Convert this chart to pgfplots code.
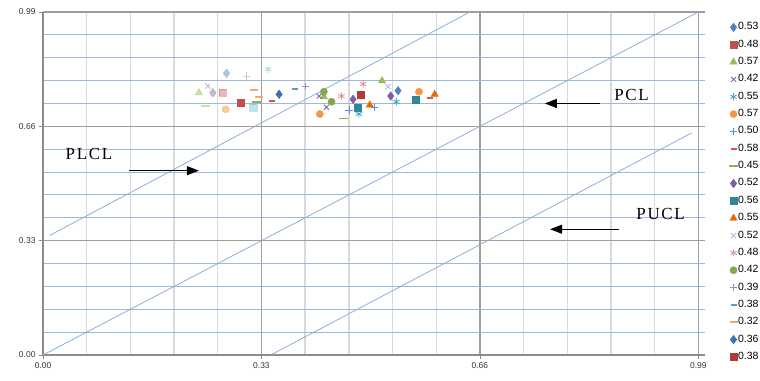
\documentclass[border=0pt]{standalone}
\usepackage{fontspec}
\setmainfont{Liberation Sans}
\newfontfamily\annfont{Liberation Serif}[LetterSpace=10]
\usepackage{pgfplots}
\pgfplotsset{compat=1.18}
\usetikzlibrary{arrows.meta}
\definecolor{cA}{HTML}{4F81BD}
\definecolor{cB}{HTML}{C0504D}
\definecolor{cC}{HTML}{9BBB59}
\definecolor{cD}{HTML}{8064A2}
\definecolor{cE}{HTML}{4BACC6}
\definecolor{cF}{HTML}{F79646}
\definecolor{cG}{HTML}{5F8DD3}
\definecolor{cH}{HTML}{D9534F}
\definecolor{cI}{HTML}{8DB255}
\definecolor{cJ}{HTML}{7D60A0}
\definecolor{cK}{HTML}{31859C}
\definecolor{cL}{HTML}{E46C0A}
\definecolor{cM}{HTML}{A9C0DE}
\definecolor{cN}{HTML}{D99694}
\definecolor{cO}{HTML}{86A84A}
\definecolor{cP}{HTML}{9F8FC0}
\definecolor{cQ}{HTML}{4F9FC6}
\definecolor{cR}{HTML}{F9A664}
\definecolor{cS}{HTML}{3F6FB0}
\definecolor{cT}{HTML}{B03A37}
\definecolor{lineblue}{HTML}{8EAEDB}
\definecolor{minorblue}{HTML}{9DB8DF}
\begin{document}
\begin{tikzpicture}
\clip (-43bp,-26bp) rectangle (717bp,355bp);
\begin{axis}[
  at={(0,0)}, anchor=south west,
  scale only axis, width=662bp, height=343bp,
  xmin=0, xmax=1.0, ymin=0, ymax=0.99,
  axis x line=bottom, axis y line=left,
  axis line style={-, draw=black!45, line width=1.3bp},
  xtick={0,0.33,0.66,0.99}, ytick={0,0.33,0.66,0.99},
  minor xtick={0.066,0.132,0.198,0.264,0.396,0.462,0.528,0.594,0.726,0.792,0.858,0.924},
  minor ytick={0.066,0.132,0.198,0.264,0.396,0.462,0.528,0.594,0.726,0.792,0.858,0.924},
  grid=both,
  major grid style={draw=black!38, line width=1.4bp},
  minor x grid style={draw=black!15, line width=1.4bp},
  minor y grid style={draw=minorblue, line width=1bp},
  tick align=outside, major tick length=4bp, minor tick length=0pt,
  tick style={draw=black!45, line width=0.8bp},
  ticklabel style={font=\fontsize{8.5}{9}\selectfont, text=black!80},
  /pgf/number format/fixed, /pgf/number format/fixed zerofill,
  /pgf/number format/precision=2, /pgf/number format/assume math mode=true,
  legend cell align=left,
  legend image code/.code={\draw[mark repeat=2,mark phase=2] plot coordinates {(0bp,0bp)(4bp,0bp)(8bp,0bp)};},
  legend style={at={(axis description cs:1.036,0.969)}, anchor=north west,
    draw=none, fill=none, inner sep=0pt, row sep=8.35bp,
    font=\fontsize{10.5}{10.5}\selectfont,
    nodes={inner sep=0pt, text height=7bp, text depth=2bp},
    /tikz/every even column/.append style={column sep=4bp}},
  every axis plot/.append style={only marks, mark size=3.6bp},
]
% control lines
\addplot[forget plot, no marks, sharp plot, draw=lineblue, line width=0.8bp] coordinates {(0.01,0.345) (0.645,0.99)};
\addplot[forget plot, no marks, sharp plot, draw=lineblue, line width=0.8bp] coordinates {(0.0,0.0) (0.99,0.99)};
\addplot[forget plot, no marks, sharp plot, draw=lineblue, line width=0.8bp] coordinates {(0.344,0.0) (0.98,0.641)};
% faded points
\addplot[forget plot, mark=diamond*, mark size=4.3bp, color=cA, opacity=0.45] coordinates {(0.2773,0.8130)};
\addplot[forget plot, mark=+, color=cP, opacity=0.5, line width=0.9bp] coordinates {(0.3075,0.8052)};
\addplot[forget plot, mark=asterisk, color=cE, opacity=0.45, line width=0.9bp] coordinates {(0.3401,0.8245)};
\addplot[forget plot, mark=x, color=cD, opacity=0.45, line width=0.9bp] coordinates {(0.2491,0.7763)};
\addplot[forget plot, mark=triangle*, mark size=4.2bp, color=cC, opacity=0.5] coordinates {(0.2355,0.7570)};
\addplot[forget plot, mark=diamond*, mark size=4.3bp, color=cD, opacity=0.45] coordinates {(0.2566,0.7570)};
\addplot[forget plot, mark=square*, color=cB, opacity=0.4] coordinates {(0.2717,0.7570)};
\addplot[forget plot, mark=-, mark size=4.5bp, color=cC, opacity=0.5, line width=1.6bp] coordinates {(0.2460,0.7186)};
\addplot[forget plot, mark=*, color=cF, opacity=0.5] coordinates {(0.2758,0.7091)};
\addplot[forget plot, mark=square*, color=cE, opacity=0.35] coordinates {(0.3174,0.7149)};
% series
\addplot[mark=diamond*, mark size=4.3bp, color=cA] coordinates {(0.5363,0.7628)};
\addlegendentry{0.53}
\addplot[mark=square*, color=cB] coordinates {(0.2989,0.7281)};
\addlegendentry{0.48}
\addplot[mark=triangle*, mark size=4.2bp, color=cC] coordinates {(0.5122,0.7916) (0.4242,0.7455)};
\addlegendentry{0.57}
\addplot[mark=x, color=cD, line width=0.9bp] coordinates {(0.4171,0.7475) (0.4282,0.7149)};
\addlegendentry{0.42}
\addplot[mark=asterisk, color=cE, line width=0.9bp] coordinates {(0.5339,0.7310) (0.4770,0.6955)};
\addlegendentry{0.55}
\addplot[mark=*, color=cF] coordinates {(0.5680,0.7599) (0.4181,0.6955)};
\addlegendentry{0.57}
\addplot[mark=+, color=cG, line width=0.9bp] coordinates {(0.4623,0.7071) (0.5011,0.7149)};
\addlegendentry{0.50}
\addplot[mark=-, mark size=3bp, color=cH, line width=1.7bp] coordinates {(0.3461,0.7339) (0.5842,0.7426)};
\addlegendentry{0.58}
\addplot[mark=-, mark size=4.5bp, color=cI, line width=1.6bp] coordinates {(0.4533,0.6831) (0.3226,0.7310)};
\addlegendentry{0.45}
\addplot[mark=diamond*, mark size=4.3bp, color=cJ] coordinates {(0.4684,0.7380) (0.5253,0.7475)};
\addlegendentry{0.52}
\addplot[mark=square*, color=cK] coordinates {(0.5630,0.7380) (0.4759,0.7149)};
\addlegendentry{0.56}
\addplot[mark=triangle*, mark size=4.2bp, color=cL] coordinates {(0.5917,0.7524) (0.4936,0.7215)};
\addlegendentry{0.55}
\addplot[mark=x, color=cM, line width=0.9bp] coordinates {(0.5212,0.7743)};
\addlegendentry{0.52}
\addplot[mark=asterisk, color=cN, line width=0.9bp] coordinates {(0.4835,0.7821) (0.4509,0.7475)};
\addlegendentry{0.48}
\addplot[mark=*, color=cO] coordinates {(0.4242,0.7599) (0.4358,0.7310)};
\addlegendentry{0.42}
\addplot[mark=+, color=cP, line width=0.9bp] coordinates {(0.3970,0.7743)};
\addlegendentry{0.39}
\addplot[mark=-, mark size=3bp, color=cQ, line width=1.7bp] coordinates {(0.3804,0.7668)};
\addlegendentry{0.38}
\addplot[mark=-, mark size=4bp, color=cR, line width=1.6bp] coordinates {(0.3185,0.7648) (0.3260,0.7455)};
\addlegendentry{0.32}
\addplot[mark=diamond*, mark size=4.3bp, color=cS] coordinates {(0.3567,0.7524)};
\addlegendentry{0.36}
\addplot[mark=square*, color=cT] coordinates {(0.4800,0.7504)};
\addlegendentry{0.38}
% annotations
\node[font=\annfont\fontsize{17}{17}\selectfont] at (axis cs:0.0694,0.580) {PLCL};
\draw[-{Triangle[length=12bp,width=9bp]}, line width=1.1bp] (axis cs:0.130,0.532) -- (axis cs:0.2355,0.532);
\node[font=\annfont\fontsize{17}{17}\selectfont] at (axis cs:0.889,0.750) {PCL};
\draw[-{Triangle[length=12bp,width=9bp]}, line width=1.1bp] (axis cs:0.842,0.726) -- (axis cs:0.758,0.726);
\node[font=\annfont\fontsize{17}{17}\selectfont] at (axis cs:0.933,0.407) {PUCL};
\draw[-{Triangle[length=12bp,width=9bp]}, line width=1.1bp] (axis cs:0.870,0.363) -- (axis cs:0.766,0.363);
\end{axis}
\end{tikzpicture}
\end{document}
